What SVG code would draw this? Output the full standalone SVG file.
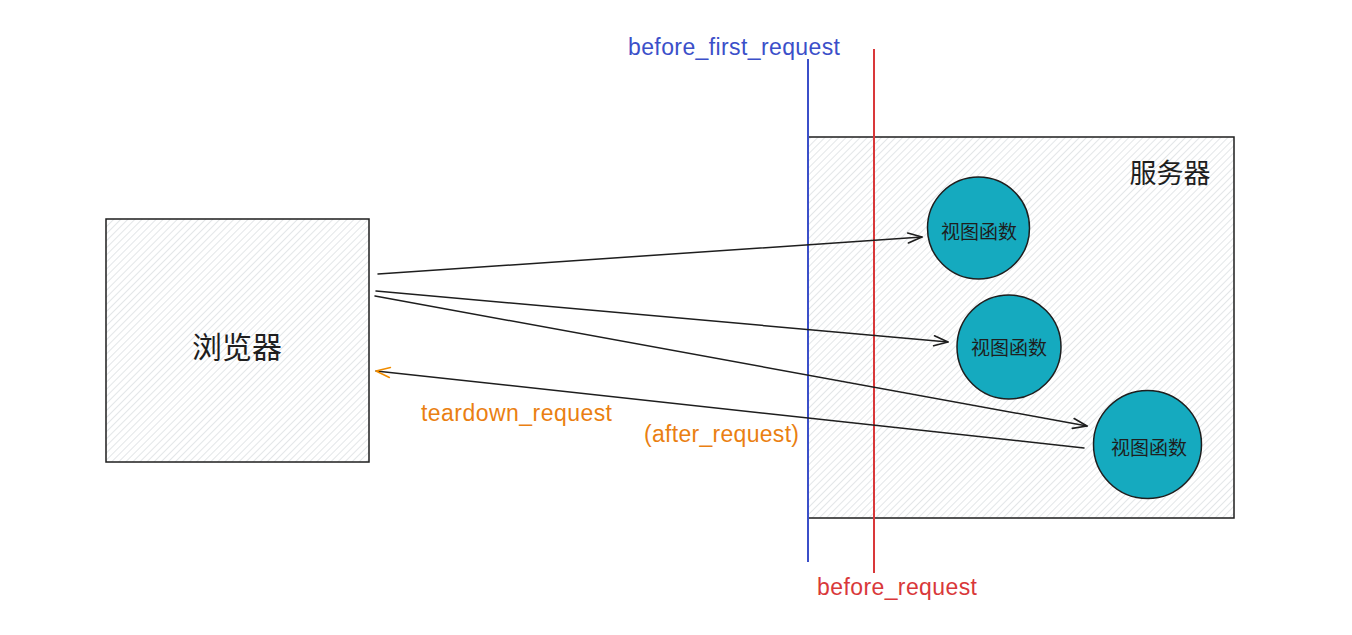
<svg xmlns="http://www.w3.org/2000/svg" width="1352" height="635" viewBox="0 0 1352 635">
<defs>
<pattern id="hatch" width="5" height="5" patternUnits="userSpaceOnUse" patternTransform="rotate(45)">
<line x1="0" y1="0" x2="0" y2="5" stroke="#c8cdd2" stroke-width="1"/>
</pattern>
<marker id="ah" viewBox="0 0 20 20" refX="18" refY="10" markerWidth="20" markerHeight="20" markerUnits="userSpaceOnUse" orient="auto">
<path d="M4,5 L18,10 L4,15" fill="none" stroke="#1e1e1e" stroke-width="1.6" stroke-linecap="round" stroke-linejoin="round"/>
</marker>
<marker id="ahO" viewBox="0 0 20 20" refX="18" refY="10" markerWidth="20" markerHeight="20" markerUnits="userSpaceOnUse" orient="auto">
<path d="M4,5 L18,10 L4,15" fill="none" stroke="#f08c00" stroke-width="1.5" stroke-linecap="round" stroke-linejoin="round"/>
</marker>
</defs>
<style>
.box{fill:url(#hatch);stroke:#1e1e1e;stroke-width:1.5}
.circ{fill:#15aabf;stroke:#1e1e1e;stroke-width:1.5}
.cjk{font-family:"Noto Sans CJK SC","Noto Sans",sans-serif;fill:#1e1e1e;text-anchor:middle}
.lat{font-family:"Liberation Sans",Arial,sans-serif;font-size:23px}
.conn{fill:none;stroke:#1e1e1e;stroke-width:1.5;stroke-linecap:round}
</style>
<rect width="1352" height="635" fill="#ffffff"/>
<g id="browser">
<rect class="box" x="106" y="219" width="263" height="243"/>
<text class="cjk" x="237" y="358" font-size="30">浏览器</text>
</g>
<g id="server">
<rect class="box" x="808" y="137" width="426" height="381"/>
<text class="cjk" x="1170" y="183" font-size="27">服务器</text>
</g>
<g id="view1">
<circle class="circ" cx="978.5" cy="228" r="51"/>
<text class="cjk" x="979" y="239" font-size="19">视图函数</text>
</g>
<g id="view2">
<circle class="circ" cx="1009" cy="347" r="52"/>
<text class="cjk" x="1009" y="355" font-size="19">视图函数</text>
</g>
<g id="view3">
<circle class="circ" cx="1147.5" cy="444.5" r="54"/>
<text class="cjk" x="1149" y="455" font-size="19">视图函数</text>
</g>
<g id="hooks">
<line x1="808" y1="59" x2="808" y2="562" stroke="#3b4fc9" stroke-width="2"/>
<text class="lat" x="628" y="55" fill="#3b4fc9" textLength="212" lengthAdjust="spacing">before_first_request</text>
<line x1="874" y1="49" x2="874" y2="573" stroke="#d9383a" stroke-width="2"/>
<text class="lat" x="817" y="595" fill="#d9383a" textLength="160" lengthAdjust="spacing">before_request</text>
<text class="lat" x="421" y="421" fill="#ea7f12" textLength="191" lengthAdjust="spacing">teardown_request</text>
<text class="lat" x="644" y="442" fill="#ea7f12" textLength="155" lengthAdjust="spacing">(after_request)</text>
</g>
<g id="connectors">
<path class="conn" d="M378,274 L922,237" stroke-width="2" marker-end="url(#ah)"/>
<path class="conn" d="M376,291 L948,342" stroke-width="2" marker-end="url(#ah)"/>
<path class="conn" d="M375,296 L1087,426" marker-end="url(#ah)"/>
<path class="conn" d="M1084,448 L376,371" stroke="#f08c00" marker-end="url(#ahO)"/>
</g>
</svg>
